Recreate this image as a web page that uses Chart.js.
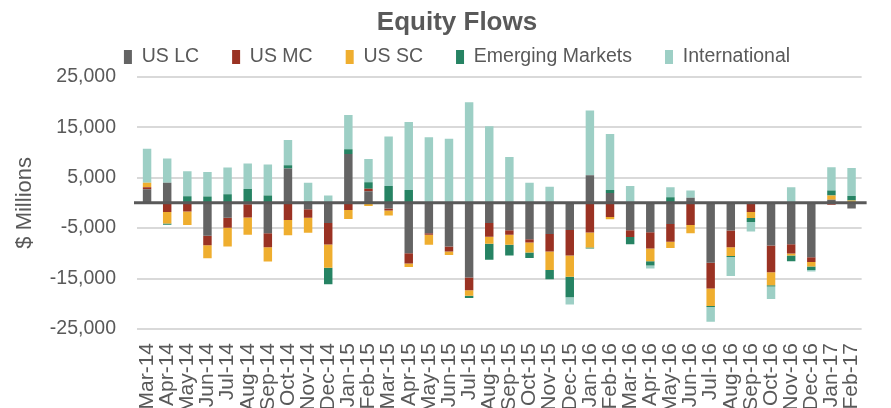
<!DOCTYPE html>
<html>
<head>
<meta charset="utf-8">
<script src="https://cdn.jsdelivr.net/npm/chart.js@4/dist/chart.umd.min.js"></script>
<style>
    body { margin: 0; background: #fff; overflow: hidden; }
</style>
</head>
<body>
<canvas id="equityFlows" width="891" height="408"></canvas>
<script>
// Months on the x axis
const months = [
    "Mar-14", "Apr-14", "May-14", "Jun-14", "Jul-14", "Aug-14", "Sep-14", "Oct-14", "Nov-14", "Dec-14",
    "Jan-15", "Feb-15", "Mar-15", "Apr-15", "May-15", "Jun-15", "Jul-15", "Aug-15", "Sep-15", "Oct-15",
    "Nov-15", "Dec-15", "Jan-16", "Feb-16", "Mar-16", "Apr-16", "May-16", "Jun-16", "Jul-16", "Aug-16",
    "Sep-16", "Oct-16", "Nov-16", "Dec-16", "Jan-17", "Feb-17",
]

// Flows in $ millions
const usLC = [
    2700, 4000, -200, -6500, -2950, -300, -6000, 6800, -1250, -4000,
    9700, 2300, -1100, -10000, -6000, -8650, -14800, -4000, -5450, -7200,
    -6150, -5400, 5450, 1950, -5450, -5850, -4200, 1000, -11850, -5500,
    -200, -8450, -8200, -10800, 600, -1100,
]
const usMC = [
    400, -1800, -1500, -1900, -2000, -2600, -2800, -3400, -1700, -4250,
    -1400, 500, -400, -2000, -300, -1000, -2500, -2700, -850, -650,
    -3500, -5050, -5900, -2800, -1300, -3200, -3500, -4400, -5100, -3300,
    -1600, -5300, -1850, -900, -400, 0,
]
const usSC = [
    900, -2300, -2700, -2600, -3700, -3400, -2800, -3000, -3000, -4600,
    -1800, -600, -1000, -700, -2000, -700, -1100, -1400, -2000, -2000,
    -3650, -4200, -2950, -450, 0, -2500, -1250, -1600, -3500, -1750,
    -1200, -2600, -400, -900, 850, 450,
]
const emergingMarkets = [
    0, -250, 1300, 1250, 1700, 2750, 1450, 650, 250, -3300,
    900, 1300, 3350, 2550, 0, 0, -450, -3200, -2150, -1100,
    -1850, -4050, -200, 600, -1450, -850, 1100, 0, -200, -200,
    -800, -250, -1100, -700, 1000, 900,
]
const international = [
    6700, 4800, 4950, 4850, 5300, 5050, 6150, 5000, 3750, 1450,
    6800, 4600, 9800, 13450, 13000, 12700, 19950, 15200, 9100, 4000,
    3200, -1450, 12850, 11100, 3350, -600, 2000, 1450, -2900, -3750,
    -1900, -2450, 3100, -300, 4600, 5550,
]

const yTicks = [-25000, -15000, -5000, 5000, 15000, 25000]

const FONT = "'Liberation Sans', Arial, sans-serif"
const TEXT = "#595959"

Chart.defaults.font.family = FONT
Chart.defaults.color = TEXT

// dark line across the zero value, drawn over the bars
const zeroLine = {
    id: "zeroLine",
    afterDatasetsDraw(chart) {
        const { ctx, chartArea, scales } = chart
        const y = scales.y.getPixelForValue(0)
        ctx.save()
        ctx.strokeStyle = TEXT
        ctx.lineWidth = 3
        ctx.beginPath()
        ctx.moveTo(chartArea.left - 3, y)
        ctx.lineTo(chartArea.right + 5, y)
        ctx.stroke()
        ctx.restore()
    },
}

const series = [
    { label: "US LC", data: usLC, backgroundColor: "#646464" },
    { label: "US MC", data: usMC, backgroundColor: "#9a3223" },
    { label: "US SC", data: usSC, backgroundColor: "#efae2f" },
    { label: "Emerging Markets", data: emergingMarkets, backgroundColor: "#268363" },
    { label: "International", data: international, backgroundColor: "#9dcfc5" },
]

const ctx = document.getElementById("equityFlows").getContext("2d")

new Chart(ctx, {
    type: "bar",
    data: {
        labels: months,
        datasets: series.map((s) => ({
            ...s,
            stack: "flows",
            barPercentage: 0.42,
            categoryPercentage: 1,
        })),
    },
    options: {
        responsive: false,
        animation: false,
        devicePixelRatio: 1,
        layout: {
            padding: { left: 40, right: 17, top: 0, bottom: 0 },
        },
        plugins: {
            title: {
                display: true,
                text: "Equity Flows",
                color: TEXT,
                font: { size: 26, weight: "bold" },
                // negative bottom lets the legend sit close under the title
                padding: { top: 7, bottom: -24 },
            },
            legend: {
                position: "top",
                labels: {
                    boxWidth: 8,
                    boxHeight: 14,
                    padding: 33,
                    color: TEXT,
                    font: { size: 19.5 },
                },
            },
            tooltip: { enabled: false },
        },
        scales: {
            x: {
                stacked: true,
                grid: { display: false, drawTicks: false },
                border: { display: false },
                ticks: {
                    autoSkip: false,
                    minRotation: 90,
                    maxRotation: 90,
                    padding: 14,
                    color: TEXT,
                    font: { size: 21 },
                },
                afterFit(scale) {
                    scale.height = 79
                },
            },
            y: {
                stacked: true,
                min: -25000,
                max: 25000,
                afterBuildTicks(scale) {
                    scale.ticks = yTicks.map((v) => ({ value: v }))
                },
                grid: { color: "#d9d9d9", lineWidth: 2, drawTicks: false },
                border: { display: false },
                ticks: {
                    padding: 21,
                    color: TEXT,
                    font: { size: 19.5 },
                    callback: (v) => v.toLocaleString("en-US"),
                },
                title: {
                    display: true,
                    text: "$ Millions",
                    color: TEXT,
                    font: { size: 22 },
                    padding: { top: -28, bottom: 0 },
                },
                afterFit(scale) {
                    scale.width = 97
                },
            },
        },
    },
    plugins: [zeroLine],
})
</script>
</body>
</html>
